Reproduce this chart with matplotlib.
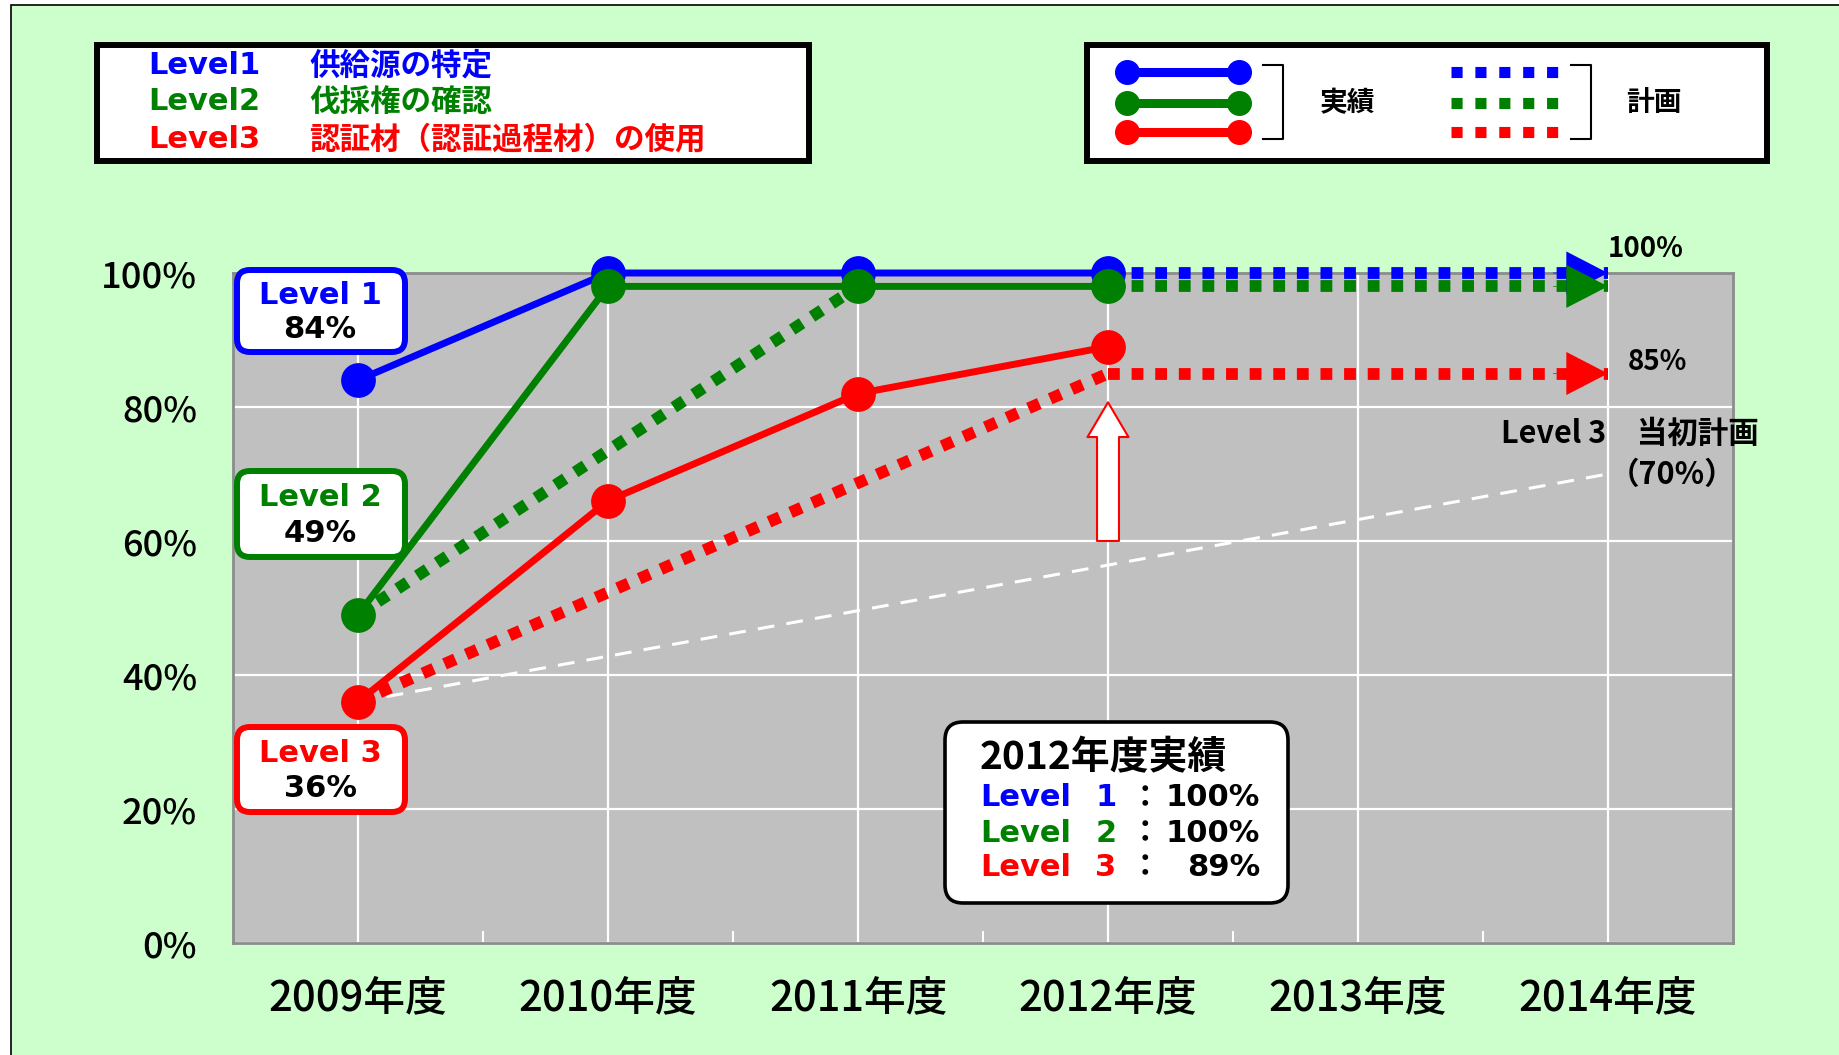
import matplotlib
matplotlib.use('Agg')
import matplotlib.pyplot as plt
from matplotlib.patches import FancyBboxPatch, Rectangle
from matplotlib.lines import Line2D
import numpy as np

# ---- data ----
years = ['2009年度', '2010年度', '2011年度', '2012年度', '2013年度', '2014年度']
y_ticks = [0, 20, 40, 60, 80, 100]
y_tick_labels = ['0%', '20%', '40%', '60%', '80%', '100%']

# 実績 (2009-2012)
actual_x = [0, 1, 2, 3]
level1_actual = [84, 100, 100, 100]
level2_actual = [49, 98, 98, 98]
level3_actual = [36, 66, 82, 89]

# 計画 (dotted)
level2_plan_early_x = [0, 2]
level2_plan_early = [49, 98]
level3_plan_early_x = [0, 3]
level3_plan_early = [36, 85]
plan_x = [3, 5]
level1_plan = [100, 100]
level2_plan = [98, 98]
level3_plan = [85, 85]

# Level 3 当初計画
initial_x = [0, 5]
level3_initial = [36, 70]

# 2012年度実績 summary
result_2012 = [100, 100, 89]

BLUE, GREEN, RED = '#0000FF', '#008000', '#FF0000'
BG = '#CCFFCC'
JP = 'Noto Sans CJK JP'
LAT = 'DejaVu Sans'
plt.rcParams['font.family'] = [LAT, JP]

W, H = 1839, 1055


def fx(x):
    return x / W


def fy(y):
    return 1 - y / H


def rbox(x0, y0, x1, y1, ec, lw, r, z=1):
    """rounded box given in pixels from the top-left corner"""
    p = FancyBboxPatch((fx(x0), fy(y1)), (x1 - x0) / W, (y1 - y0) / H,
                       boxstyle=f'round,pad=0,rounding_size={r / W}',
                       mutation_aspect=W / H, transform=fig.transFigure,
                       fc='white', ec=ec, lw=lw, zorder=z)
    fig.add_artist(p)


def ftext(x, y, s, **kw):
    fig.text(fx(x), fy(y), s, va='center', **kw)


fig = plt.figure(figsize=(W / 100, H / 100), dpi=100, facecolor='white')

# green background frame
fig.add_artist(Rectangle((fx(11), -0.05), 1.1, fy(5) + 0.05, transform=fig.transFigure,
                         fc=BG, ec='black', lw=1.2, zorder=-2))

ax = fig.add_axes([fx(233), fy(943), 1500 / W, 670 / H])
ax.set_facecolor('#C0C0C0')
ax.set_xlim(-0.5, 5.5)
ax.set_ylim(0, 100)
ax.set_xticks(range(len(years)))
ax.set_xticklabels(years, fontsize=30, fontfamily=JP, weight='medium')
ax.set_yticks(y_ticks)
ax.set_yticklabels(y_tick_labels, fontsize=26, fontfamily=JP, weight='medium')
ax.set_xticks(np.arange(0.5, 5, 1), minor=True)
ax.tick_params(axis='both', which='major', length=0)
ax.tick_params(axis='x', which='major', pad=24)
ax.tick_params(axis='y', which='major', pad=26)
ax.tick_params(axis='x', which='minor', direction='in', length=9, color='white', width=1.5)
ax.grid(True, which='major', color='white', lw=1.6)
ax.set_axisbelow(True)
for sp in ax.spines.values():
    sp.set_color('#8C8C8C')
    sp.set_linewidth(2)

# initial plan (white dashed)
ax.plot(initial_x, level3_initial, color='white', lw=2.2, ls=(0, (5.5, 4)), zorder=2)

# plan lines (dotted) with arrow heads
dot = dict(lw=8.5, ls=(0, (1, 1)), dash_capstyle='butt', zorder=3, clip_on=False)
ax.plot(level2_plan_early_x, level2_plan_early, color=GREEN, **dot)
ax.plot(level3_plan_early_x, level3_plan_early, color=RED, **dot)
for vals, c in [(level1_plan, BLUE), (level2_plan, GREEN), (level3_plan, RED)]:
    ax.plot(plan_x, vals, color=c, **dot)
    ax.annotate('', xy=(plan_x[-1], vals[-1]), xytext=(plan_x[-1] - 0.22, vals[-1]),
                arrowprops=dict(arrowstyle='simple,head_length=3.0,head_width=3.1,tail_width=0.05',
                                fc=c, ec='none', mutation_scale=10, shrinkA=0, shrinkB=0),
                annotation_clip=False, zorder=5)

# actual lines
for vals, c in [(level1_actual, BLUE), (level2_actual, GREEN), (level3_actual, RED)]:
    ax.plot(actual_x, vals, color=c, lw=5, marker='o', ms=24, mec=c, zorder=4, clip_on=False)

# white up arrow at 2012
ax.annotate('', xy=(3, 80.7), xytext=(3, 60),
            arrowprops=dict(arrowstyle='simple,head_length=2.5,head_width=2.95,tail_width=1.58',
                            fc='white', ec=RED, lw=1.5, mutation_scale=10, shrinkA=0, shrinkB=0),
            zorder=5)

# target labels
ax.text(5.0, 103.6, f'{level1_plan[-1]}%', fontsize=20, fontfamily=JP, weight='bold',
        ha='left', va='center', clip_on=False)
ax.text(5.08, 86.7, f'{level3_plan[-1]}%', fontsize=20, fontfamily=JP, weight='bold',
        ha='left', va='center')
ax.text(4.57, 76.0, 'Level 3\u3000当初計画', fontsize=22, fontfamily=JP, weight='bold',
        ha='left', va='center', clip_on=False)
ax.text(5.256, 69.9, f'（{level3_initial[-1]}%）', fontsize=22, fontfamily=JP, weight='bold',
        ha='center', va='center', clip_on=False)

# level boxes on the left
for (y0, y1, c, name, v) in [(270, 352, BLUE, 'Level 1', level1_actual[0]),
                             (471, 557, GREEN, 'Level 2', level2_actual[0]),
                             (727, 812, RED, 'Level 3', level3_actual[0])]:
    rbox(237, y0, 405, y1, c, 4.3, 13)
    yc = (y0 + y1) / 2
    ftext(320, yc - 16, name, color=c, fontsize=22, weight='bold', fontfamily=LAT, ha='center')
    ftext(320, yc + 19, f'{v}%', color='black', fontsize=22, weight='bold', fontfamily=LAT, ha='center')

# 2012年度実績 box
rbox(945, 722, 1288, 903, 'black', 2.6, 18)
ftext(980, 758, '2012年度実績', fontsize=28, weight='bold', fontfamily=JP, ha='left')
for yy, c, n, v in zip([798, 833, 867], [BLUE, GREEN, RED], ['1', '2', '3'], result_2012):
    ftext(980, yy, 'Level', color=c, fontsize=22, weight='bold', fontfamily=LAT, ha='left')
    ftext(1106, yy, n, color=c, fontsize=22, weight='bold', fontfamily=LAT, ha='center')
    ftext(1145, yy, '：', color='black', fontsize=22, weight='bold', fontfamily=JP, ha='center')
    ftext(1260, yy, f'{v}%', color='black', fontsize=22, weight='bold', fontfamily=LAT, ha='right')

# top-left legend
fig.add_artist(Rectangle((fx(97), fy(161)), 712 / W, 116 / H, transform=fig.transFigure,
                         fc='white', ec='black', lw=4.3, zorder=1))
for yy, c, lv, desc in zip([65, 102, 139], [BLUE, GREEN, RED],
                           ['Level1', 'Level2', 'Level3'],
                           ['供給源の特定', '伐採権の確認', '認証材（認証過程材）の使用']):
    ftext(148, yy, lv, color=c, fontsize=22, weight='bold', fontfamily=LAT, ha='left')
    ftext(309, yy, desc, color=c, fontsize=22, weight='bold', fontfamily=JP, ha='left')

# top-right legend
fig.add_artist(Rectangle((fx(1087), fy(161)), 680 / W, 116 / H, transform=fig.transFigure,
                         fc='white', ec='black', lw=4.3, zorder=1))
for yy, c in zip([72, 103, 132], [BLUE, GREEN, RED]):
    fig.add_artist(Line2D([fx(1127), fx(1239)], [fy(yy), fy(yy)], transform=fig.transFigure,
                          color=c, lw=6.5, marker='o', ms=17, zorder=2))
    fig.add_artist(Line2D([fx(1451), fx(1558)], [fy(yy), fy(yy)], transform=fig.transFigure,
                          color=c, lw=8, ls=(0, (1, 1.15)), dash_capstyle='butt', zorder=2))
for bx in [1263, 1571]:
    fig.add_artist(Line2D([fx(bx), fx(bx + 20), fx(bx + 20), fx(bx)],
                          [fy(65), fy(65), fy(139), fy(139)], transform=fig.transFigure,
                          color='black', lw=1.5, zorder=2))
ftext(1348, 103, '実績', fontsize=20, weight='bold', fontfamily=JP, ha='center')
ftext(1654, 103, '計画', fontsize=20, weight='bold', fontfamily=JP, ha='center')

fig.savefig('out.png', dpi=100, facecolor=fig.get_facecolor())
